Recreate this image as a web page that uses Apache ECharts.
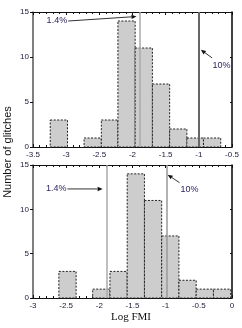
<!DOCTYPE html>
<html><head><meta charset="utf-8">
<script src="https://cdn.jsdelivr.net/npm/echarts@6/dist/echarts.min.js"></script>
<style>html,body{margin:0;padding:0;background:#fff}#c{width:242px;height:328px}</style>
</head><body><div id="c"></div>
<script>
// ---- data ----
const counts = [3, 0, 1, 3, 14, 11, 7, 2, 1, 1];
const topEdges = [-3.24, -2.98, -2.73, -2.47, -2.22, -1.96, -1.70, -1.44, -1.18, -0.93, -0.67];
const bottomEdges = [-2.61, -2.35, -2.10, -1.84, -1.58, -1.32, -1.06, -0.80, -0.54, -0.28, -0.02];
const topLines = [-1.89, -1.0];
const bottomLines = [-1.89, -0.99];
const topXRange = [-3.5, -0.5];
const bottomXRange = [-3, 0];
const yTicks = [0, 15, 5];
// annotations: [textX, textY, fromX, fromY, toX, toY]
const topNotes = [[-3.14, 14.0, -2.97, 14.0, -1.94, 14.5], [-0.66, 9.1, -0.80, 9.9, -0.97, 10.8]];
const bottomNotes = [[-2.65, 12.3, -2.48, 12.3, -1.95, 12.3], [-0.64, 12.2, -0.79, 13.0, -0.97, 13.9]];
const noteLabels = ['1.4%', '10%'];

function bins(edges) {
  return counts.map((c, i) => [edges[i], edges[i + 1], c]);
}
const chart = echarts.init(document.getElementById('c'));
const grids = [
  {left: 33, top: 12, width: 199, height: 135},
  {left: 33, top: 165, width: 199, height: 133}
];
const labelFont = {fontFamily: 'Liberation Sans, Arial', fontSize: 8, color: '#1a1a3a'};
function xAxes(gi, range) {
  return [
    {type: 'value', gridIndex: gi, min: range[0], max: range[1], interval: 0.5, position: 'bottom',
     axisLine: {onZero: false, lineStyle: {color: '#111', width: 1}},
     axisTick: {inside: true, length: 3, lineStyle: {color: '#111'}},
     minorTick: {show: true, splitNumber: 5, length: 2, lineStyle: {color: '#111'}},
     splitLine: {show: false},
     axisLabel: Object.assign({margin: 4}, labelFont)},
    {type: 'value', gridIndex: gi, min: range[0], max: range[1], interval: 0.5, position: 'top',
     axisLine: {onZero: false, lineStyle: {color: '#111', width: 1}},
     axisTick: {inside: true, length: 3, lineStyle: {color: '#111'}},
     minorTick: {show: true, splitNumber: 5, length: 2, lineStyle: {color: '#111'}},
     splitLine: {show: false}, axisLabel: {show: false}}
  ];
}
function yAxes(gi) {
  return [
    {type: 'value', gridIndex: gi, min: yTicks[0], max: yTicks[1], interval: yTicks[2], position: 'left',
     axisLine: {show: true, onZero: false, lineStyle: {color: '#555', width: 1.5}},
     axisTick: {show: true, inside: false, length: 3, lineStyle: {color: '#111'}},
     splitLine: {show: false},
     axisLabel: Object.assign({margin: 4}, labelFont)},
    {type: 'value', gridIndex: gi, min: yTicks[0], max: yTicks[1], interval: yTicks[2], position: 'right',
     axisLine: {show: true, onZero: false, lineStyle: {color: '#000', width: 1.5}},
     axisTick: {show: true, inside: true, length: 2, lineStyle: {color: '#111'}},
     splitLine: {show: false}, axisLabel: {show: false}}
  ];
}
function histSeries(gi, edges, lines, lineColors) {
  return {
    type: 'custom', xAxisIndex: gi * 2, yAxisIndex: gi * 2, data: bins(edges),
    renderItem: function (params, api) {
      const c = api.value(2);
      if (!c) return null;
      const p0 = api.coord([api.value(0), c]);
      const p1 = api.coord([api.value(1), 0]);
      return {type: 'rect', shape: {x: p0[0], y: p0[1], width: p1[0] - p0[0], height: p1[1] - p0[1]},
        style: {fill: '#cdcdcd', stroke: '#222', lineWidth: 1, lineDash: [2, 1.5]}};
    },
    markLine: {silent: true, symbol: 'none', label: {show: false}, animation: false,
      data: lines.map((v, i) => ({xAxis: v, lineStyle: {color: lineColors[i].c, width: lineColors[i].w, type: 'solid'}}))},
    z: 2
  };
}
function noteSeries(gi, notes) {
  return {
    type: 'custom', xAxisIndex: gi * 2, yAxisIndex: gi * 2, clip: false, z: 5,
    data: notes.map((n, i) => ({value: n, name: noteLabels[i]})),
    renderItem: function (params, api) {
      const t = api.coord([api.value(0), api.value(1)]);
      const a = api.coord([api.value(2), api.value(3)]);
      const b = api.coord([api.value(4), api.value(5)]);
      const dx = b[0] - a[0], dy = b[1] - a[1];
      const L = Math.sqrt(dx * dx + dy * dy);
      const ux = dx / L, uy = dy / L;
      const hl = 5, hw = 2.2;
      const base = [b[0] - ux * hl, b[1] - uy * hl];
      return {type: 'group', children: [
        {type: 'line', shape: {x1: a[0], y1: a[1], x2: base[0], y2: base[1]}, style: {stroke: '#333', lineWidth: 1}},
        {type: 'polygon', shape: {points: [b, [base[0] - uy * hw, base[1] + ux * hw], [base[0] + uy * hw, base[1] - ux * hw]]},
          style: {fill: '#111'}},
        {type: 'text', x: t[0], y: t[1], style: {text: noteLabels[params.dataIndex], fill: '#2e2460',
          font: '9px "Liberation Sans", Arial', align: 'center', verticalAlign: 'middle'}}
      ]};
    }
  };
}
chart.setOption({
  animation: false,
  grid: grids,
  xAxis: xAxes(0, topXRange).concat(xAxes(1, bottomXRange)),
  yAxis: yAxes(0).concat(yAxes(1)),
  graphic: [
    {type: 'text', x: 8, y: 152, rotation: Math.PI / 2, style: {text: 'Number of glitches', fill: '#111',
      font: '11px "Liberation Sans", Arial', align: 'center', verticalAlign: 'middle'}},
    {type: 'text', x: 131, y: 317, style: {text: 'Log FMI', fill: '#111',
      font: '11px "Liberation Serif", "Times New Roman"', align: 'center', verticalAlign: 'middle'}}
  ],
  series: [
    histSeries(0, topEdges, topLines, [{c: '#aaa', w: 1.5}, {c: '#666', w: 2}]),
    histSeries(1, bottomEdges, bottomLines, [{c: '#aaa', w: 1.5}, {c: '#999', w: 1.5}]),
    noteSeries(0, topNotes),
    noteSeries(1, bottomNotes)
  ]
});
</script></body></html>
